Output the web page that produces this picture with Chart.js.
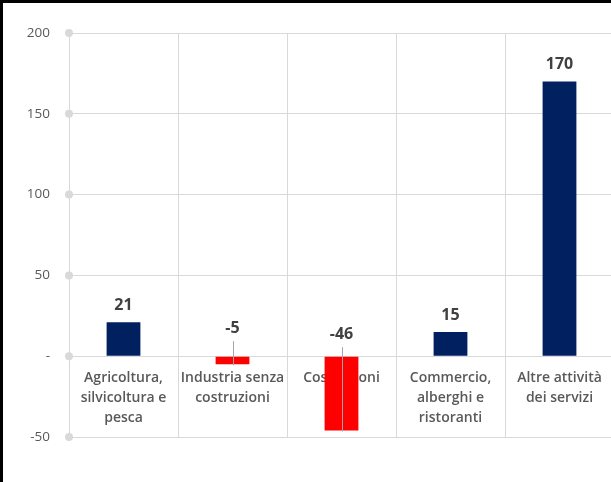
<!DOCTYPE html>
<html>
<head>
<meta charset="utf-8">
<script src="https://cdn.jsdelivr.net/npm/chart.js@4.4.1/dist/chart.umd.min.js"></script>
<style>
  html, body { margin: 0; padding: 0; background: #fff; overflow: hidden; }
  #wrap { position: absolute; left: 0; top: 0; width: 620px; height: 482px; }
  #frame {
    position: absolute; left: 0; top: 0; width: 611px; height: 482px;
    border-top: 3px solid #000; border-left: 3px solid #000;
    box-sizing: border-box; pointer-events: none;
  }
</style>
</head>
<body>
<div id="wrap"><canvas id="chart" width="620" height="482"></canvas></div>
<div id="frame"></div>
<script>
// data
const categories = [
  ["Agricoltura,", "silvicoltura e", "pesca"],
  ["Industria senza", "costruzioni"],
  ["Costruzioni"],
  ["Commercio,", "alberghi e", "ristoranti"],
  ["Altre attività", "dei servizi"],
];
const values = [21, -5, -46, 15, 170];
const yMin = -50;
const yMax = 200;
const yStep = 50;

const NAVY = "#002060";
const RED = "#ff0000";
const GRID = "#d9d9d9";
const FONT = "'Open Sans', 'Noto Sans', sans-serif";

// value labels, tick dots, leader lines for negative bars
const decorPlugin = {
  id: "decor",
  afterDatasetsDraw(chart) {
    const ctx = chart.ctx;
    const y = chart.scales.y;
    const meta = chart.getDatasetMeta(0);
    const zero = y.getPixelForValue(0);

    // grey dots on the y axis
    ctx.save();
    ctx.fillStyle = GRID;
    y.ticks.forEach((t) => {
      const py = y.getPixelForValue(t.value);
      ctx.beginPath();
      ctx.arc(chart.chartArea.left, py, 4, 0, Math.PI * 2);
      ctx.fill();
    });

    ctx.font = "bold 16px " + FONT;
    ctx.fillStyle = "#404040";
    ctx.textAlign = "center";
    ctx.textBaseline = "middle";
    meta.data.forEach((bar, i) => {
      const v = values[i];
      if (v >= 0) {
        ctx.fillText(String(v), bar.x, bar.y - 17);
      } else {
        const ly = v < -20 ? zero - 22 : zero - 28;
        ctx.strokeStyle = "#a6a6a6";
        ctx.lineWidth = 1;
        ctx.beginPath();
        ctx.moveTo(Math.round(bar.x) + 0.5, ly + 13);
        ctx.lineTo(Math.round(bar.x) + 0.5, bar.y + 1);
        ctx.stroke();
        ctx.fillText(String(v), bar.x, ly);
      }
    });
    ctx.restore();
  },
};

new Chart(document.getElementById("chart"), {
  type: "bar",
  data: {
    labels: categories,
    datasets: [
      {
        data: values,
        backgroundColor: values.map((v) => (v >= 0 ? NAVY : RED)),
        borderWidth: 0,
        barPercentage: 0.31,
        categoryPercentage: 1.0,
      },
    ],
  },
  options: {
    responsive: false,
    animation: false,
    layout: { padding: { top: 33, bottom: 45, left: 0, right: 6 } },
    plugins: {
      legend: { display: false },
      tooltip: { enabled: false },
    },
    scales: {
      x: {
        position: { y: 0 },
        offset: true,
        grid: { color: GRID, offset: true, drawTicks: false },
        border: { display: false },
        ticks: {
          color: "#595959",
          font: { family: FONT, size: 14, weight: "600", lineHeight: "20px" },
          padding: 12,
          maxRotation: 0,
          autoSkip: false,
        },
      },
      y: {
        min: yMin,
        max: yMax,
        afterFit(scale) { scale.width = 69; },
        grid: { color: GRID, drawTicks: false },
        border: { display: true, color: GRID },
        ticks: {
          stepSize: yStep,
          color: "#595959",
          font: { family: FONT, size: 13.5 },
          padding: 19,
          callback: (v) => (v === 0 ? "-" : v),
        },
      },
    },
  },
  plugins: [decorPlugin],
});
</script>
</body>
</html>
